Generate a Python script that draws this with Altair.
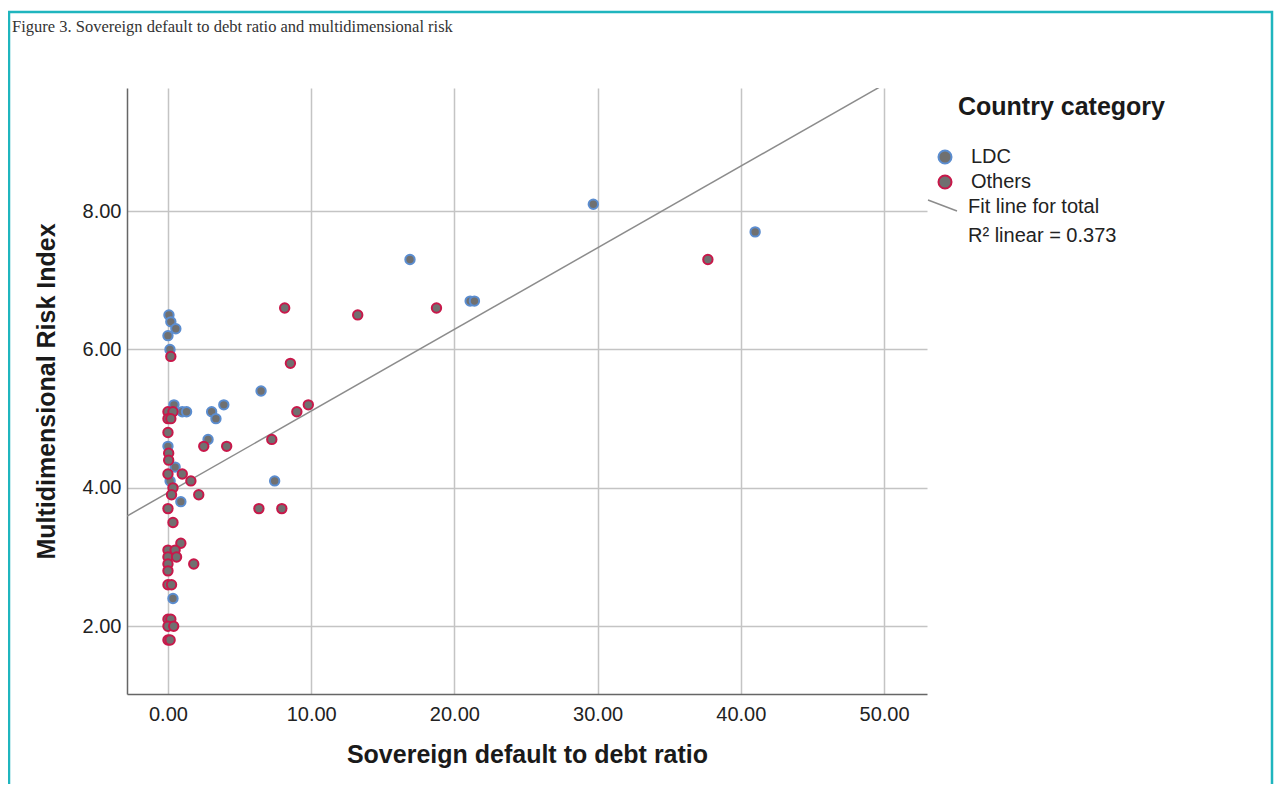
import altair as alt
import pandas as pd

# ---- data ----
ldc_x = [29.7, 41.0, 16.9, 21.1, 21.4, 0.07, 0.2, 0.55, 0.0, 0.14,
         0.42, 1.0, 1.3, 3.05, 3.35, 3.9, 6.5, 2.8, 0.0, 0.5,
         0.15, 0.9, 7.45, 0.35]
ldc_y = [8.1, 7.7, 7.3, 6.7, 6.7, 6.5, 6.4, 6.3, 6.2, 6.0,
         5.2, 5.1, 5.1, 5.1, 5.0, 5.2, 5.4, 4.7, 4.6, 4.3,
         4.1, 3.8, 4.1, 2.4]
oth_x = [37.7, 8.15, 13.25, 18.75, 8.55, 0.2, 9.0, 9.8, 7.25, 0.0,
         0.35, 0.0, 0.2, 0.0, 0.05, 0.05, 2.5, 4.1, 0.0, 1.0,
         1.6, 0.35, 0.25, 2.15, 0.0, 6.35, 7.95, 0.35, 0.9, 0.0,
         0.5, 0.0, 0.6, 0.0, 1.8, 0.0, 0.0, 0.25, 0.0, 0.2,
         0.0, 0.4, 0.0, 0.15]
oth_y = [7.3, 6.6, 6.5, 6.6, 5.8, 5.9, 5.1, 5.2, 4.7, 5.1,
         5.1, 5.0, 5.0, 4.8, 4.5, 4.4, 4.6, 4.6, 4.2, 4.2,
         4.1, 4.0, 3.9, 3.9, 3.7, 3.7, 3.7, 3.5, 3.2, 3.1,
         3.1, 3.0, 3.0, 2.9, 2.9, 2.8, 2.6, 2.6, 2.1, 2.1,
         2.0, 2.0, 1.8, 1.8]
categories = ["LDC", "Others"]
x_ticks = [0, 10, 20, 30, 40, 50]
y_ticks = [2, 4, 6, 8]
x_domain = [-2.86, 53.0]
y_domain = [1.02, 9.78]
fit_intercept = 3.93
fit_slope = 0.118
r2_text = "R\u00b2 linear = 0.373"
fit_label = "Fit line for total"
title_text = "Figure 3. Sovereign default to debt ratio and multidimensional risk"

FONT = "Liberation Sans"
BLUE = "#5b8dd0"
RED = "#c8184a"
GRAY = "#707070"

pts = pd.DataFrame({
    "x": ldc_x + oth_x,
    "y": ldc_y + oth_y,
    "cat": ["LDC"] * len(ldc_x) + ["Others"] * len(oth_x),
})
fit = pd.DataFrame({"x": x_domain,
                    "y": [fit_intercept + fit_slope * v for v in x_domain]})
one = pd.DataFrame({"a": [0]})

xs = alt.Scale(domain=x_domain, nice=False, zero=False)
ys = alt.Scale(domain=y_domain, nice=False, zero=False)

xax = alt.Axis(values=x_ticks, format=".2f", title="Sovereign default to debt ratio",
               labelFontSize=20, labelPadding=10, titleFontSize=25,
               titleFontWeight="bold", titleY=68, titleBaseline="alphabetic")
yax = alt.Axis(values=y_ticks, format=".2f", title="Multidimensional Risk Index",
               labelFontSize=20, labelPadding=6, titleFontSize=25,
               titleFontWeight="bold", titleX=-73, titleY=303,
               titleAngle=-90, titleBaseline="alphabetic", titleAlign="center")

points = alt.Chart(pts).mark_circle(
    fill=GRAY, fillOpacity=1, strokeWidth=2, size=88, opacity=1
).encode(
    x=alt.X("x:Q", scale=xs, axis=xax),
    y=alt.Y("y:Q", scale=ys, axis=yax),
    stroke=alt.Stroke("cat:N", scale=alt.Scale(domain=categories, range=[BLUE, RED]),
                      legend=alt.Legend(title=None, orient="none", legendX=808, legendY=59,
                                        labelFontSize=20, labelFont=FONT, labelColor="#222",
                                        symbolType="circle", symbolSize=170,
                                        symbolStrokeWidth=2, symbolFillColor=GRAY,
                                        rowPadding=3, labelOffset=16)),
)

line = alt.Chart(fit).mark_line(color="#8c8c8c", strokeWidth=1.5, clip=True).encode(
    x=alt.X("x:Q", scale=xs), y=alt.Y("y:Q", scale=ys)
)

leg_title = alt.Chart(one).mark_text(
    text="Country category", font=FONT, fontSize=25, fontWeight="bold",
    align="left", baseline="alphabetic", color="#1a1a1a"
).encode(x=alt.value(831), y=alt.value(27))

leg_line = alt.Chart(one).mark_rule(color="#8c8c8c", strokeWidth=1.5).encode(
    x=alt.value(801), x2=alt.value(830), y=alt.value(112), y2=alt.value(123)
)
leg_fit = alt.Chart(one).mark_text(
    text=fit_label, font=FONT, fontSize=20, align="left", baseline="alphabetic", color="#222"
).encode(x=alt.value(841), y=alt.value(125))
leg_r2 = alt.Chart(one).mark_text(
    text=r2_text, font=FONT, fontSize=20, align="left", baseline="alphabetic", color="#222"
).encode(x=alt.value(841), y=alt.value(154))

fig_title = alt.Chart(one).mark_text(
    text=title_text, font="Liberation Serif", fontSize=16.5, align="left",
    baseline="middle", color="#333"
).encode(x=alt.value(-115), y=alt.value(-61))

border = alt.Chart(one).mark_rect(
    fill="transparent", stroke="#1fb5be", strokeWidth=2.5
).encode(x=alt.value(-118), x2=alt.value(1145), y=alt.value(-76), y2=alt.value(730))

chart = alt.layer(
    border, line, points, leg_title, leg_line, leg_fit, leg_r2, fig_title
).properties(
    width=800, height=606,
    autosize=alt.AutoSizeParams(type="none"),
    padding={"left": 119, "top": 80, "right": 347, "bottom": 90},
).configure_view(strokeWidth=0).configure_axis(
    labelFont=FONT, titleFont=FONT, labelColor="#222", titleColor="#1a1a1a",
    gridColor="#c4c4c4", gridWidth=1.5, domainColor="#666", domainWidth=1.5,
    ticks=False, tickSize=0
)

chart.save("out.html", embed_options={"renderer": "svg", "actions": False})
